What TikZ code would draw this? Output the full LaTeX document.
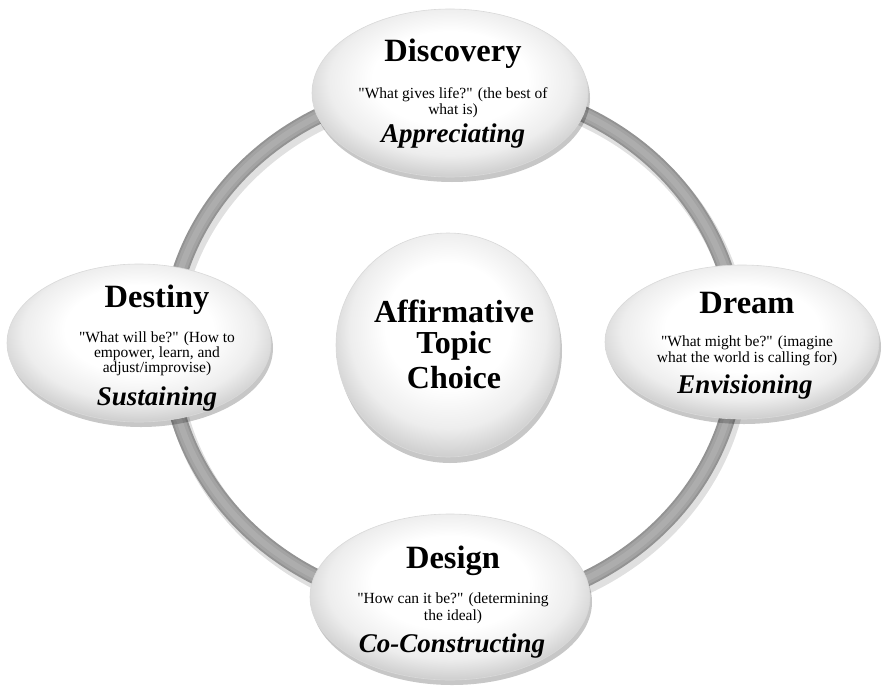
\documentclass[tikz,border=0pt]{standalone}
\usepackage{fontspec}
\setmainfont{Liberation Serif}
\usetikzlibrary{shadows,shapes.geometric}
\newcommand\dq{\XeTeXglyph\XeTeXglyphindex "quotedbl"\relax}
\pgfdeclareradialshading{orb}{\pgfqpoint{0bp}{6bp}}{color(0bp)=(white); color(14bp)=(white); color(22bp)=(gray!14); color(28bp)=(gray!40); color(50bp)=(gray!40)}
\begin{document}
\begin{tikzpicture}[x=1pt,y=-1pt,
  phase/.style={ellipse, inner sep=0pt, shading=orb, draw=gray!30, line width=0.6pt,
    drop shadow={shadow xshift=2pt, shadow yshift=-5pt, opacity=0.22, fill=black}},
  hub/.style={circle, inner sep=0pt, shading=orb, draw=gray!30, line width=0.6pt,
    drop shadow={shadow xshift=2pt, shadow yshift=-6pt, opacity=0.22, fill=black}},
  ttl/.style={anchor=base, inner sep=0pt, font=\fontsize{32.5}{34}\selectfont\bfseries},
  sub/.style={anchor=base, inner sep=0pt, font=\fontsize{15.5}{17}\selectfont},
  act/.style={anchor=base, inner sep=0pt, font=\fontsize{27}{28}\selectfont\bfseries\itshape}
]
\useasboundingbox (0,0) rectangle (882,685);
% ring
\draw[line width=18pt, black, opacity=0.12] (456,352) ellipse [x radius=285, y radius=262];
\draw[line width=16pt, gray!85] (453,347) ellipse [x radius=285, y radius=262];
\draw[line width=12pt, gray!72] (453,347) ellipse [x radius=285, y radius=262];
\draw[line width=6pt, gray!64] (453,347) ellipse [x radius=285, y radius=262];

% phase ellipses
\node[phase, minimum width=276pt, minimum height=168pt] (disc) at (450,93) {};
\node[phase, minimum width=264pt, minimum height=158pt] (dest) at (139,343) {};
\node[phase, minimum width=274pt, minimum height=154pt] (drm) at (742,342) {};
\node[phase, minimum width=280pt, minimum height=166pt] (desg) at (450,597) {};
\node[hub, minimum size=224pt] (hub) at (448,345) {};

% Discovery
\node[ttl] (discT) at (453,62) {Discovery};
\node[sub] (discS1) at (453,98) {\dq What gives life?\dq{} (the best of};
\node[sub] (discS2) at (453,114) {what is)};
\node[act] (discA) at (453,142) {Appreciating};
% Destiny
\node[ttl] (destT) at (157,307) {Destiny};
\node[sub] (destS1) at (157,342) {\dq What will be?\dq{} (How to};
\node[sub] (destS2) at (157,357) {empower, learn, and};
\node[sub] (destS3) at (157,372) {adjust/improvise)};
\node[act] (destA) at (157,405) {Sustaining};
% Dream
\node[ttl] (drmT) at (747,313) {Dream};
\node[sub] (drmS1) at (747,346) {\dq What might be?\dq{} (imagine};
\node[sub] (drmS2) at (747,362) {what the world is calling for)};
\node[act] (drmA) at (745,393) {Envisioning};
% Design
\node[ttl] (desgT) at (453,568) {Design};
\node[sub] (desgS1) at (453,603) {\dq How can it be?\dq{} (determining};
\node[sub] (desgS2) at (453,620) {the ideal)};
\node[act] (desgA) at (452,652) {Co-Constructing};
% Hub
\node[ttl, font=\fontsize{32}{34}\selectfont\bfseries] (hub1) at (454,322) {Affirmative};
\node[ttl, font=\fontsize{32}{34}\selectfont\bfseries] (hub2) at (454,353) {Topic};
\node[ttl, font=\fontsize{32}{34}\selectfont\bfseries] (hub3) at (454,388) {Choice};
\end{tikzpicture}
\end{document}
